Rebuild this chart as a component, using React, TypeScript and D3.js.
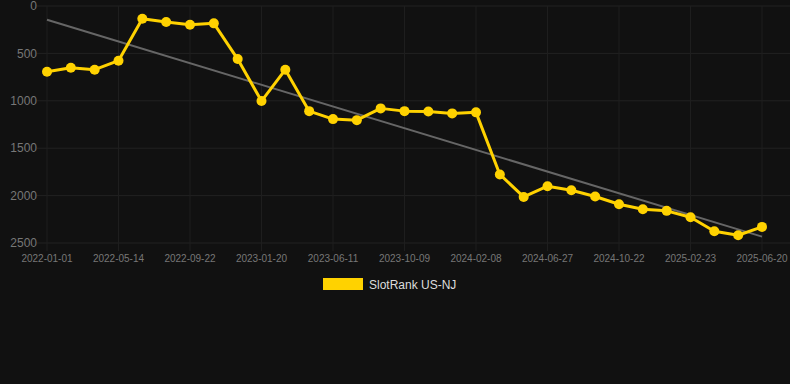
import React, { useEffect, useRef } from "react";
import * as d3 from "d3";

const dates = [
  "2022-01-01", "2022-02-14", "2022-03-30", "2022-05-14", "2022-06-27", "2022-08-09",
  "2022-09-22", "2022-11-01", "2022-12-11", "2023-01-20", "2023-03-08", "2023-04-24",
  "2023-06-11", "2023-07-21", "2023-08-30", "2023-10-09", "2023-11-19", "2023-12-29",
  "2024-02-08", "2024-03-27", "2024-05-12", "2024-06-27", "2024-08-04", "2024-09-13",
  "2024-10-22", "2024-12-01", "2025-01-12", "2025-02-23", "2025-04-01", "2025-05-11",
  "2025-06-20",
];

const ranks = [
  693, 651, 672, 577, 134, 169, 197, 183, 560, 1003, 672, 1109, 1193, 1204, 1080, 1109,
  1112, 1133, 1122, 1777, 2014, 1901, 1943, 2010, 2091, 2144, 2161, 2228, 2376, 2418, 2330,
];

const yTicks = [0, 500, 1000, 1500, 2000, 2500];
const seriesName = "SlotRank US-NJ";

const W = 790;
const H = 384;
const M = { top: 6, right: 28, bottom: 141, left: 47 };

export default function App() {
  const ref = useRef<SVGSVGElement>(null);

  useEffect(() => {
    const svg = d3.select(ref.current);
    svg.selectAll("*").remove();

    svg.append("rect").attr("width", W).attr("height", H).attr("fill", "#111111");

    const x = d3.scalePoint<string>().domain(dates).range([M.left, W - M.right]);
    const y = d3.scaleLinear().domain([0, 2500]).range([M.top, H - M.bottom]);

    const labelDates = dates.filter((d, i) => i % 3 === 0);

    // grid
    svg.append("g")
      .selectAll("line")
      .data(yTicks)
      .join("line")
      .attr("x1", M.left - 10)
      .attr("x2", W)
      .attr("y1", (d) => y(d))
      .attr("y2", (d) => y(d))
      .attr("stroke", "#222222")
      .attr("stroke-width", 1);

    svg.append("g")
      .selectAll("line")
      .data(labelDates)
      .join("line")
      .attr("x1", (d) => x(d)!)
      .attr("x2", (d) => x(d)!)
      .attr("y1", M.top)
      .attr("y2", H - M.bottom + 8)
      .attr("stroke", "#1e1e1e")
      .attr("stroke-width", 1);

    // y labels
    svg.append("g")
      .selectAll("text")
      .data(yTicks)
      .join("text")
      .attr("x", 37)
      .attr("y", (d) => y(d))
      .attr("dy", "0.35em")
      .attr("text-anchor", "end")
      .attr("fill", "#777777")
      .attr("font-family", "Liberation Sans, Arial, sans-serif")
      .attr("font-size", 12)
      .text((d) => String(d));

    // x labels
    svg.append("g")
      .selectAll("text")
      .data(labelDates)
      .join("text")
      .attr("x", (d) => x(d)!)
      .attr("y", 262)
      .attr("text-anchor", "middle")
      .attr("fill", "#777777")
      .attr("font-family", "Liberation Sans, Arial, sans-serif")
      .attr("font-size", 10)
      .text((d) => d);

    // trend line (least squares)
    const n = ranks.length;
    const idx = d3.range(n);
    const mx = d3.mean(idx)!;
    const my = d3.mean(ranks)!;
    const slope =
      d3.sum(idx, (i) => (i - mx) * (ranks[i] - my)) / d3.sum(idx, (i) => (i - mx) * (i - mx));
    const icpt = my - slope * mx;
    svg.append("line")
      .attr("x1", x(dates[0])!)
      .attr("y1", y(icpt))
      .attr("x2", x(dates[n - 1])!)
      .attr("y2", y(icpt + slope * (n - 1)))
      .attr("stroke", "#666666")
      .attr("stroke-width", 2);

    const line = d3.line<number>()
      .x((d, i) => x(dates[i])!)
      .y((d) => y(d));

    svg.append("path")
      .attr("d", line(ranks))
      .attr("fill", "none")
      .attr("stroke", "#FFD200")
      .attr("stroke-width", 3)
      .attr("stroke-linejoin", "round");

    svg.append("g")
      .selectAll("circle")
      .data(ranks)
      .join("circle")
      .attr("cx", (d, i) => x(dates[i])!)
      .attr("cy", (d) => y(d))
      .attr("r", 5)
      .attr("fill", "#FFD200");

    // legend
    svg.append("rect")
      .attr("x", 323)
      .attr("y", 278)
      .attr("width", 40)
      .attr("height", 12)
      .attr("fill", "#FFD200");
    svg.append("text")
      .attr("x", 369)
      .attr("y", 288.5)
      .attr("fill", "#dddddd")
      .attr("font-family", "Liberation Sans, Arial, sans-serif")
      .attr("font-size", 12)
      .text(seriesName);
  }, []);

  return (
    <svg
      ref={ref}
      width={W}
      height={H}
      style={{ position: "absolute", left: 0, top: 0, display: "block" }}
    />
  );
}
